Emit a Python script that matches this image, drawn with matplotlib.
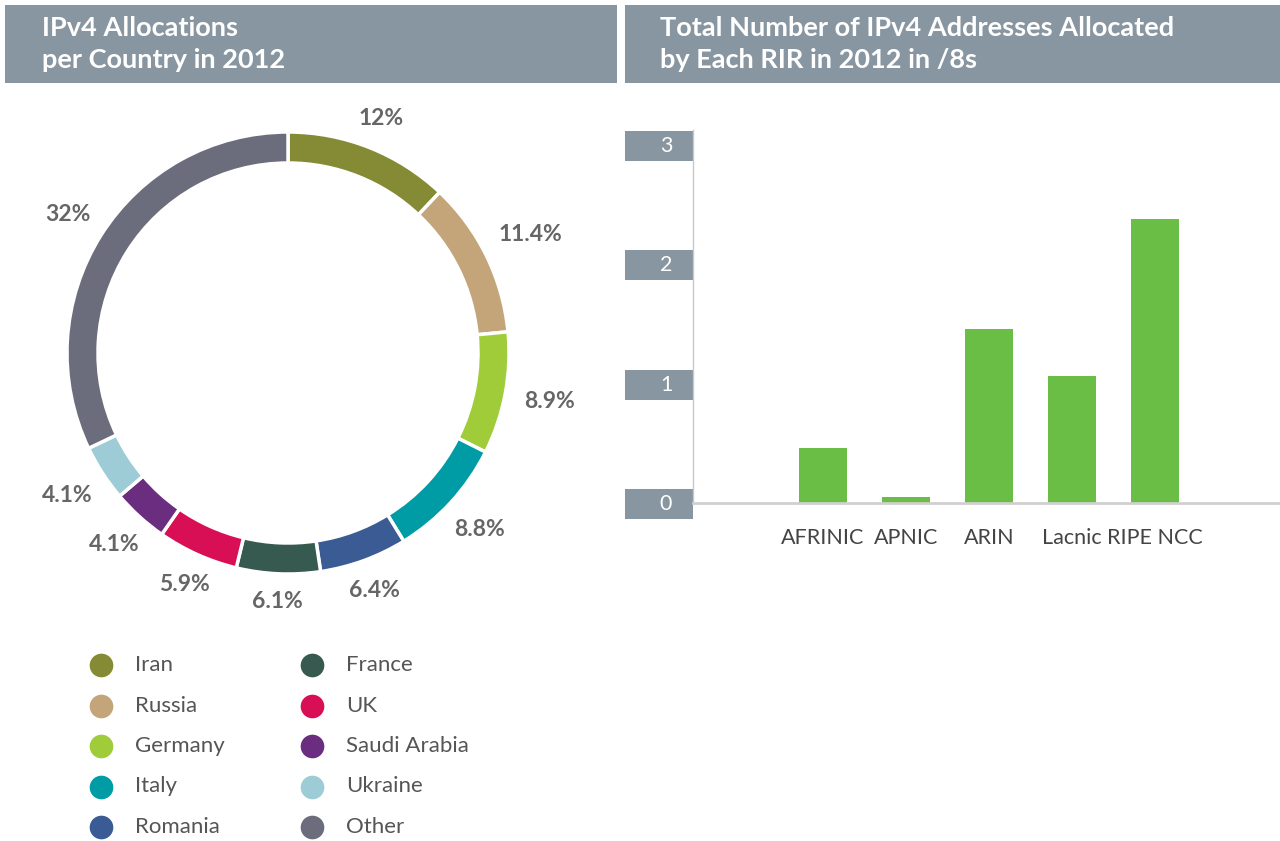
import numpy as np
import matplotlib
matplotlib.use("Agg")
import matplotlib.pyplot as plt
from matplotlib.patches import Rectangle
from matplotlib import font_manager
import matplotlib.transforms as mtransforms

# donut data
countries = ["Iran", "Russia", "Germany", "Italy", "Romania",
             "France", "UK", "Saudi Arabia", "Ukraine", "Other"]
shares = [12, 11.4, 8.9, 8.8, 6.4, 6.1, 5.9, 4.1, 4.1, 32]
share_labels = ["12%", "11.4%", "8.9%", "8.8%", "6.4%",
                "6.1%", "5.9%", "4.1%", "4.1%", "32%"]
colors = ["#858a34", "#c4a57a", "#a0cc3a", "#009ca6", "#3b5b94",
          "#375a50", "#d90f55", "#6b2d80", "#9dccd6", "#6b6d7d"]

# bar data
rirs = ["AFRINIC", "APNIC", "ARIN", "Lacnic", "RIPE NCC"]
slash8s = [0.46, 0.05, 1.46, 1.06, 2.38]
yticks = [0, 1, 2, 3]

names = {f.name for f in font_manager.fontManager.ttflist}
FONT = "Liberation Sans Narrow" if "Liberation Sans Narrow" in names else "Lato"
plt.rcParams["font.family"] = FONT

W, H = 1280, 841
fig = plt.figure(figsize=(W / 100, H / 100), dpi=100)
fig.patch.set_facecolor("white")

def px(x0, y0, x1, y1):
    # pixel box (top-left origin) -> figure fraction rect
    return [x0 / W, 1 - y1 / H, (x1 - x0) / W, (y1 - y0) / H]

# background overlay for headers and legend
bg = fig.add_axes([0, 0, 1, 1])
bg.set_xlim(0, W)
bg.set_ylim(H, 0)
bg.axis("off")

band = "#8796a0"
bg.add_patch(Rectangle((5, 5), 612, 78, color=band, lw=0))
bg.add_patch(Rectangle((625, 5), 655, 78, color=band, lw=0))
bg.text(42, 44, "IPv4 Allocations\nper Country in 2012", color="white",
        fontsize=19.5, fontweight="bold", va="center", ha="left", linespacing=1.37)
bg.text(660, 44, "Total Number of IPv4 Addresses Allocated\nby Each RIR in 2012 in /8s",
        color="white", fontsize=19.5, fontweight="bold", va="center", ha="left",
        linespacing=1.37)

for i, (name, c) in enumerate(zip(countries, colors)):
    col, row = divmod(i, 5)
    x = 101 + col * 211
    y = 665 + row * 40.5
    bg.scatter([x], [y], s=290, color=c, lw=0)
    bg.text(x + 34, y, name, color="#555555", fontsize=16, va="center", ha="left")

# donut
ax = fig.add_axes(px(8, 73, 568, 633))
R = 221.0
half = 280.0 / R
ax.pie(shares, colors=colors, startangle=90, counterclock=False, radius=1,
       wedgeprops=dict(width=31 / R, edgecolor="white", linewidth=2.5))
ax.set_xlim(-half, half)
ax.set_ylim(-half, half)
ax.set_aspect("equal")

# percentage labels sit a fixed gap outside the ring
renderer = fig.canvas.get_renderer()
total = sum(shares)
cum = np.cumsum([0] + shares)
gap = 1 + 20 / R
for i, lab in enumerate(share_labels):
    mid = 90 - (cum[i] + shares[i] / 2) / total * 360
    a = np.deg2rad(mid)
    t = ax.text(0, 0, lab, ha="center", va="center",
                fontsize=16.5, fontweight="bold", color="#666666")
    bb = t.get_window_extent(renderer)
    w, h = bb.width / 2 / R, bb.height / 2 / R * 0.75
    r = gap + np.hypot(w * np.cos(a), h * np.sin(a))
    t.set_position((r * np.cos(a), r * np.sin(a)))

# bars
bx = fig.add_axes(px(693, 130, 1280, 503))
pos = np.arange(len(rirs))
bx.bar(pos, slash8s, width=0.57, color="#6abd45", zorder=2)
bx.set_xlim(-(823 - 693) / 83, (1280 - 823) / 83)
bx.set_ylim(0, 3 + 14.5 / 119.5)
for s in ["top", "right"]:
    bx.spines[s].set_visible(False)
bx.spines["left"].set_color("#c8c8c8")
bx.spines["left"].set_linewidth(1)
bx.spines["bottom"].set_color("#d0d0d0")
bx.spines["bottom"].set_linewidth(2)
bx.set_yticks([])
bx.set_xticks(pos)
bx.set_xticklabels(rirs, fontsize=15.5, color="#444444")
bx.tick_params(axis="x", length=0, pad=18)

tr = mtransforms.blended_transform_factory(fig.transFigure, bx.transData)
box_h = 30 / 119.5
for v in yticks:
    bx.add_patch(Rectangle((625 / W, v - box_h / 2 - 0.01), 68 / W, box_h,
                           transform=tr, color=band, lw=0, clip_on=False))
    bx.text(666 / W, v - 0.01, str(v), transform=tr, color="white", fontsize=15.5,
            ha="center", va="center", clip_on=False)

fig.savefig("out.png", dpi=100)
